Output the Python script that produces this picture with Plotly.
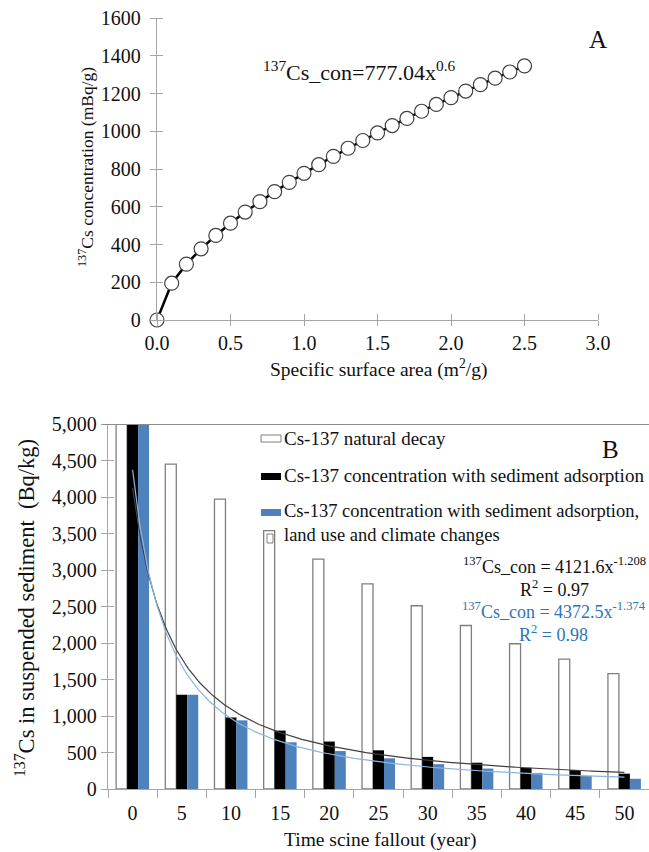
import numpy as np
import plotly.graph_objects as go

# ---------------- Panel A data ----------------
ssa = [0.0, 0.1, 0.2, 0.3, 0.4, 0.5, 0.6, 0.7, 0.8, 0.9, 1.0, 1.1, 1.2,
       1.3, 1.4, 1.5, 1.6, 1.7, 1.8, 1.9, 2.0, 2.1, 2.2, 2.3, 2.4, 2.5]
cs_conc = [0, 195, 296, 377, 448, 513, 572, 627, 680, 729, 777, 823, 867,
           910, 951, 991, 1030, 1068, 1106, 1142, 1178, 1213, 1247, 1281, 1314, 1346]
a_xticks = [0.0, 0.5, 1.0, 1.5, 2.0, 2.5, 3.0]
a_yticks = [0, 200, 400, 600, 800, 1000, 1200, 1400, 1600]

# ---------------- Panel B data ----------------
years = [0, 5, 10, 15, 20, 25, 30, 35, 40, 45, 50]
natural_decay = [5000, 4450, 3970, 3540, 3150, 2810, 2510, 2240, 1990, 1780, 1580]
with_adsorption = [5000, 1290, 980, 800, 650, 530, 440, 360, 290, 260, 210]
with_landuse = [5000, 1290, 940, 640, 520, 420, 340, 280, 220, 180, 140]
b_yticks = [0, 500, 1000, 1500, 2000, 2500, 3000, 3500, 4000, 4500, 5000]
b_boundaries = [-2.5, 2.5, 7.5, 12.5, 17.5, 22.5, 27.5, 32.5, 37.5, 42.5, 47.5, 52.5]
# power-law trendlines (coefficients as printed on the chart; x = category index)
trend_black = (4121.6, -1.208)
trend_blue = (4372.5, -1.374)

W, H = 649, 852
FONT = "Liberation Serif, Times New Roman, serif"
AXC = "#a6a6a6"
TXT = "#111"

def px(x):
    return x / W

def py(y):
    return 1 - y / H

fig = go.Figure()

fig.add_trace(go.Scatter(
    x=ssa, y=cs_conc, mode="lines+markers",
    line=dict(color="black", width=2.5),
    marker=dict(size=14, color="white", line=dict(color="#404040", width=1.2)),
    cliponaxis=False, showlegend=False, xaxis="x", yaxis="y"))

fig.add_trace(go.Bar(x=years, y=natural_decay, name="Cs-137 natural decay",
                     marker=dict(color="white", line=dict(color="#7f7f7f", width=1.3)),
                     xaxis="x2", yaxis="y2", showlegend=False))
fig.add_trace(go.Bar(x=years, y=with_adsorption, name="with sediment adsorption",
                     marker=dict(color="black", line=dict(width=0)),
                     xaxis="x2", yaxis="y2", showlegend=False))
fig.add_trace(go.Bar(x=years, y=with_landuse, name="with land use",
                     marker=dict(color="#4f81bd", line=dict(width=0)),
                     xaxis="x2", yaxis="y2", showlegend=False))

tx = np.linspace(years[0], years[-1], 300)
idx = tx / 5 + 1
fig.add_trace(go.Scatter(x=tx, y=trend_black[0] * idx ** trend_black[1], mode="lines",
                         line=dict(color="#404040", width=1.2),
                         xaxis="x2", yaxis="y2", showlegend=False))
fig.add_trace(go.Scatter(x=tx, y=trend_blue[0] * idx ** trend_blue[1], mode="lines",
                         line=dict(color="#8db4e2", width=1.2),
                         xaxis="x2", yaxis="y2", showlegend=False))

tickfont = dict(family=FONT, size=20, color=TXT)

common = dict(automargin=False, showgrid=False, zeroline=False, tickfont=tickfont,
              showline=True, linecolor=AXC, linewidth=1.3, tickcolor=AXC)

fig.update_layout(
    template="none",
    width=W, height=H, margin=dict(l=0, r=0, t=0, b=0, pad=0),
    paper_bgcolor="white", plot_bgcolor="white",
    barmode="group", bargap=0.33, bargroupgap=0,
    font=dict(family=FONT, color=TXT),
    xaxis=dict(domain=[px(157), px(598)], anchor="y", range=[0, 3],
               tickvals=a_xticks, tickformat=".1f", ticks="outside", ticklen=5,
               minor=dict(tickvals=a_xticks, ticks="inside", ticklen=6, tickcolor=AXC),
               **common),
    yaxis=dict(domain=[py(320), py(18)], anchor="x", range=[0, 1600],
               tickvals=a_yticks, ticks="outside", ticklen=6, ticklabelstandoff=5,
               minor=dict(tickvals=a_yticks, ticks="inside", ticklen=6, tickcolor=AXC),
               **common),
    xaxis2=dict(domain=[px(108), 1.0], anchor="y2", range=[-2.5, 52.5],
                tickvals=years, ticks="", ticklabelstandoff=6,
                minor=dict(tickvals=b_boundaries, ticks="outside", ticklen=8, tickcolor=AXC),
                **common),
    yaxis2=dict(domain=[py(789), py(424)], anchor="x2", range=[0, 5000],
                tickvals=b_yticks, tickformat=",", ticks="outside", ticklen=6,
                minor=dict(tickvals=b_yticks, ticks="inside", ticklen=6, tickcolor=AXC),
                **common),
)

shapes = []
# top gridline of panel B at 5000
shapes.append(dict(type="line", xref="paper", yref="y2", x0=px(103), x1=1.0,
                   y0=b_yticks[-1], y1=b_yticks[-1], line=dict(color="#8c8c8c", width=1.8)))
# manual legend symbols
shapes.append(dict(type="rect", xref="paper", yref="paper", x0=px(261), x1=px(281),
                   y0=py(442), y1=py(435), line=dict(color="#7f7f7f", width=1), fillcolor="white"))
shapes.append(dict(type="rect", xref="paper", yref="paper", x0=px(261), x1=px(281),
                   y0=py(480), y1=py(473), line=dict(width=0), fillcolor="black"))
shapes.append(dict(type="rect", xref="paper", yref="paper", x0=px(261), x1=px(281),
                   y0=py(516), y1=py(509), line=dict(width=0), fillcolor="#4f81bd"))
shapes.append(dict(type="rect", xref="paper", yref="paper", x0=px(267), x1=px(273),
                   y0=py(543), y1=py(534), line=dict(color="#7f7f7f", width=1), fillcolor="white"))
fig.update_layout(shapes=shapes)

ann = []
def A(text, x, y, size, xanchor="center", color=TXT, angle=0, align="center"):
    ann.append(dict(text=text, x=px(x), y=py(y), xref="paper", yref="paper",
                    xanchor=xanchor, yanchor="middle", showarrow=False, textangle=angle,
                    align=align, font=dict(family=FONT, size=size, color=color)))

A("<sup>137</sup>Cs_con=777.04x<sup>0.6</sup>", 359, 71, 22)
A("A", 598, 39, 25)
A("Specific surface area (m<sup>2</sup>/g)", 378, 368, 19.5)
A("<sup>137</sup>Cs concentration (mBq/g)", 86, 167, 17.5, angle=-90)

A("Cs-137 natural decay", 282, 438, 19, xanchor="left")
A("Cs-137 concentration with sediment adsorption", 282, 476, 19, xanchor="left")
A("Cs-137 concentration with sediment adsorption,<br>land use and climate changes",
  282, 523, 18.5, xanchor="left", align="left")
A("B", 610, 450, 25)
A("<sup>137</sup>Cs_con = 4121.6x<sup>-1.208</sup><br>R<sup>2</sup> = 0.97",
  648, 577, 18, xanchor="right")
A("<sup>137</sup>Cs_con = 4372.5x<sup>-1.374</sup><br>R<sup>2</sup> = 0.98",
  648, 622, 18, xanchor="right", color="#2e75b6")
A("Time scine fallout (year)", 380, 840, 19.5)
A("<sup>137</sup>Cs in suspended sediment  (Bq/kg)", 25, 608, 22.5, angle=-90)
fig.update_layout(annotations=ann)

fig.write_html("out.html", config=dict(displayModeBar=False),
               post_script="document.body.style.margin='0';document.body.style.overflow='hidden';")
